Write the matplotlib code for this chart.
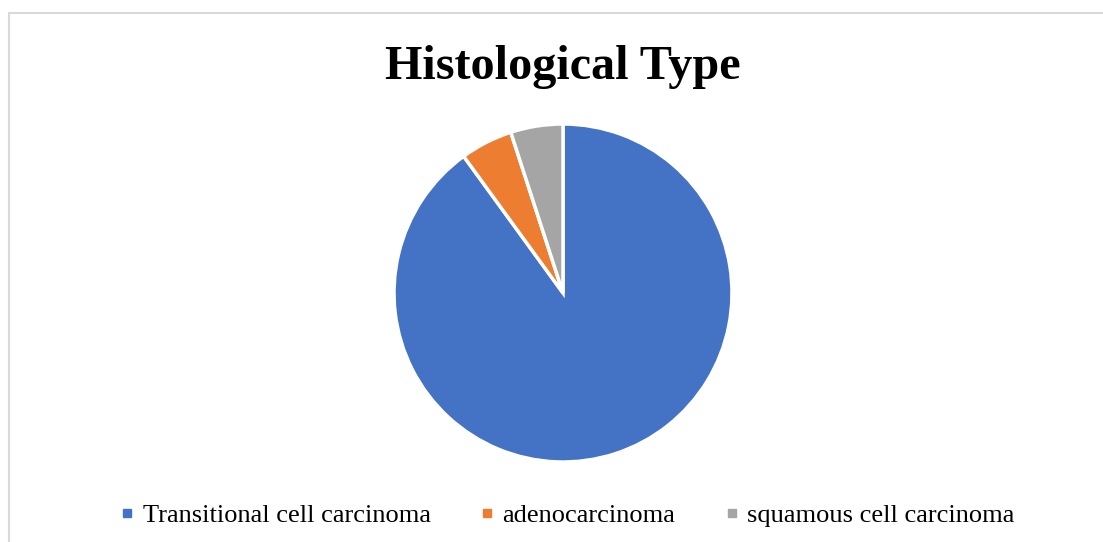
import matplotlib
matplotlib.use('Agg')
import matplotlib.pyplot as plt
from matplotlib.lines import Line2D
from matplotlib.patches import Rectangle

# data (percent of cases)
types = ["Transitional cell carcinoma", "adenocarcinoma", "squamous cell carcinoma"]
shares = [90, 5, 5]
colors = ['#4472C4', '#ED7D31', '#A5A5A5']

W, H = 1103, 542
fig = plt.figure(figsize=(W / 100, H / 100), dpi=100)
plt.rcParams['font.family'] = ['Liberation Serif', 'DejaVu Serif']

# light chart-area border (only top/left/right visible in the picture)
fig.patches.append(Rectangle((9 / W, -0.2), 1.5, (H - 13) / H + 0.2,
                             transform=fig.transFigure, fill=False,
                             edgecolor='#d9d9d9', linewidth=1.5))

# pie centred at (563, 293) px, radius ~169 px
cx, cy, r = 563, 293, 169
ax = fig.add_axes([(cx - r) / W, (H - cy - r) / H, 2 * r / W, 2 * r / H])
ax.pie(shares, colors=colors, startangle=90, counterclock=False,
       wedgeprops=dict(edgecolor='white', linewidth=2.5))
ax.set_xlim(-1, 1)
ax.set_ylim(-1, 1)
ax.set_aspect('equal')
ax.axis('off')

fig.text(563 / W, 1 - 79 / H, "Histological Type", ha='center', va='baseline',
         fontsize=34.7, fontweight='bold')

handles = [Line2D([], [], marker='s', linestyle='none', markersize=5.8,
                  markerfacecolor=c, markeredgecolor=c) for c in colors]
fig.legend(handles, types, loc='center', bbox_to_anchor=(568 / W, 1 - 515 / H),
           ncol=3, frameon=False, fontsize=19, handlelength=0.45,
           handletextpad=0.35, columnspacing=1.92, borderpad=0)

fig.savefig('out.png', dpi=100)
